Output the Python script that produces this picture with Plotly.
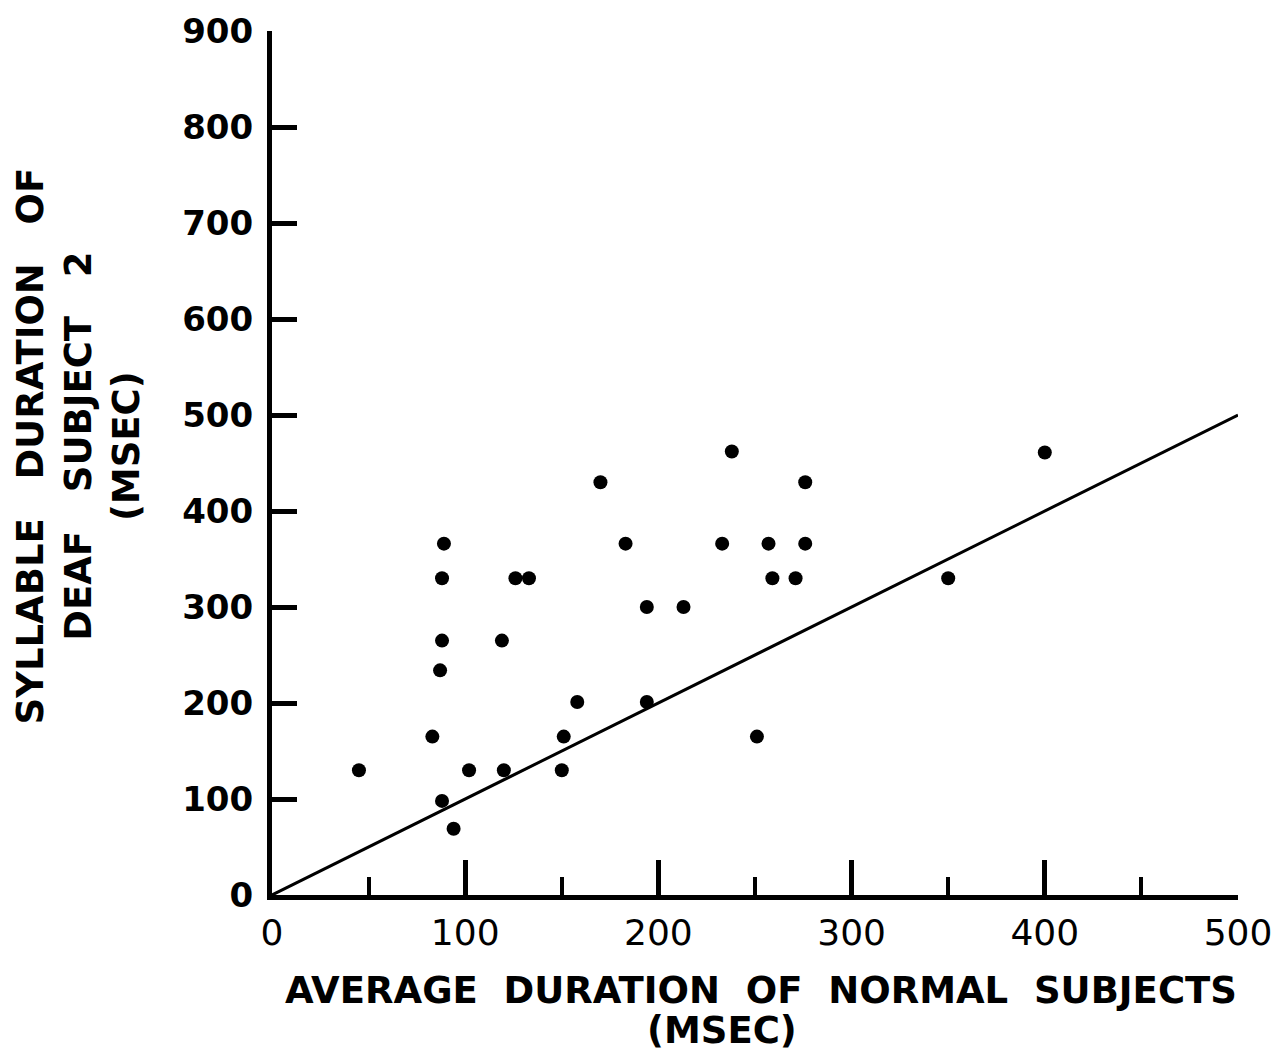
import plotly.graph_objects as go

# Data (msec)
normal_avg = [45, 89, 88, 88, 87, 83, 88, 94, 102, 119, 120, 126, 133, 150, 151, 158,
              170, 183, 194, 194, 213, 233, 238, 251, 257, 259, 271, 276, 276, 350, 400]
deaf_subject2 = [130, 366, 330, 265, 234, 165, 98, 69, 130, 265, 130, 330, 330, 130, 165, 201,
                 430, 366, 300, 201, 300, 366, 462, 165, 366, 330, 330, 366, 430, 330, 461]

identity_x = [0, 500]
identity_y = [0, 500]

x_ticks = [0, 100, 200, 300, 400, 500]
y_ticks = [0, 100, 200, 300, 400, 500, 600, 700, 800, 900]

FONT = "DejaVu Sans"
NB = "\u00a0"

fig = go.Figure()
fig.add_trace(go.Scatter(x=identity_x, y=identity_y, mode="lines",
                         line=dict(color="black", width=3), showlegend=False,
                         hoverinfo="skip"))
fig.add_trace(go.Scatter(x=normal_avg, y=deaf_subject2, mode="markers",
                         marker=dict(color="black", size=14), showlegend=False))

fig.update_layout(
    width=1288, height=1056,
    margin=dict(l=272, r=50, t=31, b=161),
    paper_bgcolor="white", plot_bgcolor="white",
    font=dict(family=FONT, color="black"),
)

fig.update_xaxes(
    range=[0, 500], tickvals=x_ticks, ticktext=[str(v) for v in x_ticks],
    showgrid=False, zeroline=False, showline=True, linecolor="black", linewidth=5,
    ticks="inside", ticklen=35, tickwidth=5, tickcolor="black",
    minor=dict(dtick=50, tick0=0, ticks="inside", ticklen=18, tickwidth=4,
               tickcolor="black", showgrid=False),
    tickfont=dict(family=FONT, size=36, color="black"),
    ticklabelstandoff=2,
)
fig.update_yaxes(
    range=[0, 900], tickvals=y_ticks, ticktext=[str(v) for v in y_ticks],
    showgrid=False, zeroline=False, showline=True, linecolor="black", linewidth=5,
    ticks="inside", ticklen=25, tickwidth=5, tickcolor="black",
    tickfont=dict(family=FONT, size=34, color="black", weight="bold"),
    ticklabelstandoff=7,
)

gap2 = NB * 2
x_title_1 = gap2.join(["AVERAGE", "DURATION", "OF", "NORMAL", "SUBJECTS"])
fig.add_annotation(
    text=x_title_1,
    xref="paper", yref="paper", x=0.506, y=-0.110, xanchor="center", yanchor="middle",
    showarrow=False, font=dict(family=FONT, size=37, color="black", weight="bold"),
)
fig.add_annotation(
    text="(MSEC)",
    xref="paper", yref="paper", x=0.466, y=-0.157, xanchor="center", yanchor="middle",
    showarrow=False, font=dict(family=FONT, size=37, color="black", weight="bold"),
)

gap3 = NB * 3
y_title = (gap3.join(["SYLLABLE", "DURATION", "OF"]) + "<br>" +
           gap3.join(["DEAF", "SUBJECT", "2"]) + "<br>(MSEC)")
fig.add_annotation(
    text=y_title,
    xref="paper", yref="paper", x=-0.274, y=0.52, xanchor="left", yanchor="middle",
    showarrow=False, align="center", textangle=-90,
    font=dict(family=FONT, size=37, color="black", weight="bold"),
)

fig.write_html("out.html")
